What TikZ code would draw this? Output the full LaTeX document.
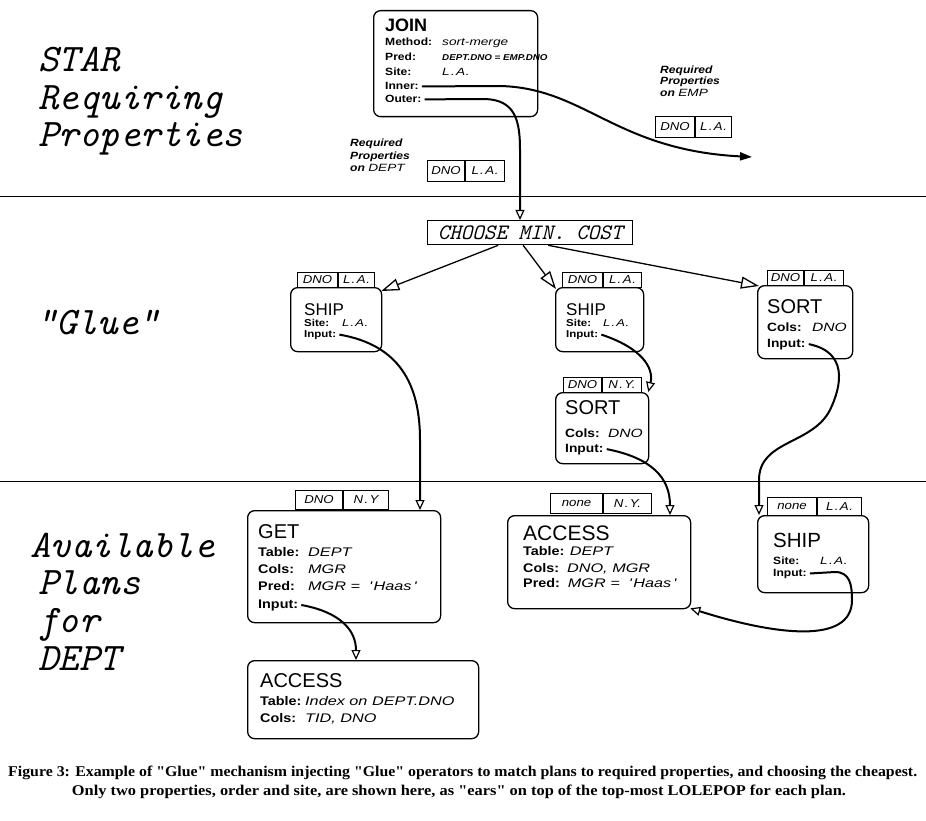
\documentclass[tikz,border=0pt]{standalone}
\usepackage{fontspec}
\usepackage{graphicx}
\usetikzlibrary{arrows.meta}
\setmainfont{Liberation Serif}
\newfontfamily\hv{Liberation Sans}
\newfontfamily\bx[FakeStretch=1.15]{Liberation Sans}
\newfontfamily\vf[FakeStretch=1.3]{Liberation Sans}
\newcommand\vl[1]{{\vf\mdseries\itshape #1}}
\newcommand\spLA{L\kern.12em.\kern.12em A\kern.06em.}
\newcommand\spNY{N\kern.12em.\kern.12em Y}
\newcommand\Q{\textquotesingle}
\newcommand\earpair[8]{%
  \node[ear, minimum width=#4pt, minimum height=#6pt] (#1a) at (#2,#3) {#7};
  \node[ear, minimum width=#5pt, minimum height=#6pt] (#1b) at (#1a.north east) {#8};}
\begin{document}
\begin{tikzpicture}[x=1pt,y=-1pt,
  opbox/.style={draw, line width=1.3pt, rounded corners=7pt, anchor=north west, inner sep=0pt},
  ear/.style={draw, line width=1pt, inner sep=0pt, anchor=north west, font=\bx\itshape\fontsize{11.5}{11.5}\selectfont},
  ttl/.style={anchor=base west, inner sep=0pt, font=\hv\fontsize{17}{17}\selectfont},
  fld/.style={anchor=base west, inner sep=0pt, font=\bx\bfseries\fontsize{10}{10}\selectfont},
  big/.style={anchor=base west, inner sep=0pt, font=\ttfamily\itshape\fontsize{39}{39}\selectfont},
  req/.style={anchor=base west, inner sep=0pt, font=\bx\bfseries\itshape\fontsize{10.5}{10.5}\selectfont},
  curv/.style={line width=2pt, -{Triangle[open, length=10pt, width=9pt, line width=1.2pt]}},
  fan/.style={line width=1.3pt, -{Triangle[open, length=18pt, width=12pt, line width=1.3pt]}},
  sep/.style={line width=1pt}]
\useasboundingbox (0,0) rectangle (926,821);
\fill[white] (0,0) rectangle (926,821);

% separators
\draw[sep] (0,197) -- (926,197);
\draw[sep] (0,481) -- (926,481);

% left labels
\node[big] (l1) at (38,72) {STAR};
\node[big] (l2) at (38,110) {Requiring};
\node[big] (l3) at (38,147) {Properties};
\node[big] (l4) at (36,334) {"Glue"};
\node[big] (l5) at (30,557) {Available};
\node[big] (l6) at (38,594) {Plans};
\node[big] (l7) at (38,632) {for};
\node[big] (l8) at (38,670) {DEPT};

% JOIN
\node[opbox, minimum width=164pt, minimum height=106pt] (join) at (373,10) {};
\node[ttl, font=\hv\bfseries\fontsize{18}{18}\selectfont] (jt) at (385,32) {JOIN};
\node[fld, font=\bx\bfseries\fontsize{10.5}{10.5}\selectfont] (jm) at (385,46) {\makebox[57pt][l]{Method:}\vl{sort-merge}};
\node[fld, font=\bx\bfseries\fontsize{10.5}{10.5}\selectfont] (jp) at (385,61) {\makebox[57pt][l]{Pred:}{\fontsize{8.5}{8.5}\selectfont\itshape DEPT.DNO = EMP.DNO}};
\node[fld, font=\bx\bfseries\fontsize{10.5}{10.5}\selectfont] (js) at (385,76) {\makebox[57pt][l]{Site:}\vl{\spLA}};
\node[fld, font=\bx\bfseries\fontsize{10.5}{10.5}\selectfont] (ji) at (385,90) {Inner:};
\node[fld, font=\bx\bfseries\fontsize{10.5}{10.5}\selectfont] (jo) at (385,103) {Outer:};

% required properties
\node[req] (rd1) at (350,147) {Required};
\node[req] (rd2) at (350,160) {Properties};
\node[req] (rd3) at (350,172) {on \vl{DEPT}};
\earpair{rdep}{427}{160}{37}{39}{21}{DNO}{\spLA}
\node[req] (re1) at (660,74) {Required};
\node[req] (re2) at (660,85) {Properties};
\node[req] (re3) at (660,97) {on \vl{EMP}};
\earpair{remp}{655}{116}{39}{36}{21}{DNO}{\spLA}
\coordinate (empend) at (752,157);

% CHOOSE
\node[draw, line width=1.3pt, minimum width=205pt, minimum height=24pt, anchor=north west, inner sep=0pt,
      font=\ttfamily\itshape\fontsize{22}{22}\selectfont] (choose) at (427,220) {CHOOSE MIN. COST};

% Glue: SHIP 1
\earpair{e1}{297}{272}{40}{36}{15}{DNO}{\spLA}
\node[opbox, minimum width=91pt, minimum height=64pt] (ship1) at (290,287) {};
\node[ttl] (s1t) at (304,315) {SHIP};
\node[fld] (s1s) at (304,326) {\makebox[38pt][l]{Site:}\vl{\spLA}};
\node[fld] (s1in) at (304,337) {Input:};

% Glue: SHIP 2
\earpair{e2}{562}{272}{40}{38}{15}{DNO}{\spLA}
\node[opbox, minimum width=88pt, minimum height=64pt] (ship2) at (555,287) {};
\node[ttl] (s2t) at (566,315) {SHIP};
\node[fld] (s2s) at (566,326) {\makebox[37pt][l]{Site:}\vl{\spLA}};
\node[fld] (s2in) at (566,337) {Input:};

% Glue: SORT 1
\earpair{e3}{767}{270}{36}{39}{15}{DNO}{\spLA}
\node[opbox, minimum width=95pt, minimum height=73pt] (sort1) at (757,285) {};
\node[ttl, font=\hv\fontsize{20}{20}\selectfont] (o1t) at (767,313) {SORT};
\node[fld, font=\bx\bfseries\fontsize{12}{12}\selectfont] (o1c) at (767,331) {\makebox[45pt][l]{Cols:}\vl{DNO}};
\node[fld, font=\bx\bfseries\fontsize{12}{12}\selectfont] (o1in) at (767,347) {Input:};

% Glue: SORT 2
\earpair{e4}{563}{377}{38}{39}{15}{DNO}{\spNY.}
\node[opbox, minimum width=93pt, minimum height=71pt] (sort2) at (555,392) {};
\node[ttl, font=\hv\fontsize{20}{20}\selectfont] (o2t) at (565,414) {SORT};
\node[fld, font=\bx\bfseries\fontsize{12}{12}\selectfont] (o2c) at (565,437) {\makebox[43pt][l]{Cols:}\vl{DNO}};
\node[fld, font=\bx\bfseries\fontsize{12}{12}\selectfont] (o2in) at (565,452) {Input:};

% Available: GET
\earpair{e5}{295}{490}{47}{45}{19}{DNO}{\spNY}
\node[opbox, minimum width=193pt, minimum height=112pt] (get) at (247,510) {};
\node[ttl, font=\hv\fontsize{20}{20}\selectfont] (gt) at (258,538) {GET};
\node[fld, font=\bx\bfseries\fontsize{12.5}{12.5}\selectfont] (gtb) at (258,556) {\makebox[50pt][l]{Table:}\vl{DEPT}};
\node[fld, font=\bx\bfseries\fontsize{12.5}{12.5}\selectfont] (gc) at (258,573) {\makebox[50pt][l]{Cols:}\vl{MGR}};
\node[fld, font=\bx\bfseries\fontsize{12.5}{12.5}\selectfont] (gp) at (258,590) {\makebox[50pt][l]{Pred:}\vl{MGR = \ \Q\,Haas\,\Q}};
\node[fld, font=\bx\bfseries\fontsize{12.5}{12.5}\selectfont] (gin) at (258,608) {Input:};

% Available: ACCESS 1
\earpair{e6}{550}{493}{52}{48}{20}{none}{\spNY.}
\node[opbox, minimum width=183pt, minimum height=93pt] (acc1) at (507,515) {};
\node[ttl, font=\hv\fontsize{21}{21}\selectfont] (a1t) at (523,540) {ACCESS};
\node[fld, font=\bx\bfseries\fontsize{12.5}{12.5}\selectfont] (a1tb) at (523,555) {Table: \vl{DEPT}};
\node[fld, font=\bx\bfseries\fontsize{12.5}{12.5}\selectfont] (a1c) at (523,572) {Cols:\ \ \vl{DNO, MGR}};
\node[fld, font=\bx\bfseries\fontsize{12.5}{12.5}\selectfont] (a1p) at (523,587) {Pred:\ \ \vl{MGR = \ \Q\,Haas\,\Q}};

% Available: SHIP 3
\earpair{e7}{767}{497}{49}{44}{18}{none}{\spLA}
\node[opbox, minimum width=111pt, minimum height=77pt] (ship3) at (757,515) {};
\node[ttl, font=\hv\fontsize{20.5}{20.5}\selectfont] (h3t) at (773,547) {SHIP};
\node[fld, font=\bx\bfseries\fontsize{10.5}{10.5}\selectfont] (h3s) at (773,564) {\makebox[47pt][l]{Site:}\vl{\spLA}};
\node[fld, font=\bx\bfseries\fontsize{10.5}{10.5}\selectfont] (h3in) at (773,576) {Input:};

% Available: ACCESS 2
\node[opbox, minimum width=231pt, minimum height=78pt] (acc2) at (247,660) {};
\node[ttl, font=\hv\fontsize{20}{20}\selectfont] (a2t) at (260,687) {ACCESS};
\node[fld, font=\bx\bfseries\fontsize{12.5}{12.5}\selectfont] (a2tb) at (260,705) {\makebox[45pt][l]{Table:}\vl{Index on DEPT.DNO}};
\node[fld, font=\bx\bfseries\fontsize{12.5}{12.5}\selectfont] (a2c) at (260,722) {\makebox[45pt][l]{Cols:}\vl{TID, DNO}};

% connectors
\draw[line width=2pt, -{Triangle[length=12pt, width=8pt]}] ([xshift=3pt]ji.east) -- (500,86) .. controls (585,88) and (615,150) .. (empend);
\draw[curv] ([xshift=3pt]jo.east) -- (485,99) .. controls (515,100) and (520,120) .. (520,150) -- (520,150 |- choose.north);

\draw[fan] ([xshift=-32pt]choose.south) -- ([xshift=-1pt,yshift=-4pt]ship1.north east);
\draw[fan] ([xshift=-7pt]choose.south) -- ([xshift=1pt,yshift=-2pt]ship2.north west);
\draw[fan] ([xshift=18pt]choose.south) -- ([xshift=2pt,yshift=-1pt]sort1.north west);

\draw[curv] ([xshift=3pt]s1in.east) .. controls (400,345) and (420,385) .. (420,440) -- (420,440 |- get.north);
\draw[curv] ([xshift=3pt]s2in.east) .. controls (642,348) and (654,368) .. ([xshift=-1pt]sort2.north east);
\draw[curv] ([xshift=3pt]o2in.east) .. controls (652,458) and (670,478) .. (670,500 |- acc1.north);
\draw[curv] ([xshift=3pt]o1in.east) .. controls (848,352) and (842,385) .. (830,410) .. controls (812,445) and (759,440) .. (759,480) -- (759,480 |- ship3.north);
\draw[curv] ([xshift=3pt]h3in.east) -- (835,572) .. controls (850,572) and (852,585) .. (852,600) .. controls (852,645) and (775,635) .. ([xshift=-1pt,yshift=1pt]acc1.south east);
\draw[curv] ([xshift=3pt]gin.east) .. controls (340,612) and (356,630) .. (356,640 |- acc2.north);

% caption
\node[anchor=base west, inner sep=0pt] (cap1) at (8,776) {\resizebox{909pt}{10.5pt}{\bfseries Figure 3: Example of \textquotedbl Glue\textquotedbl\ mechanism injecting \textquotedbl Glue\textquotedbl\ operators to match plans to required properties, and choosing the cheapest.}};
\node[anchor=base, inner sep=0pt] (cap2) at (459,795) {\resizebox{774pt}{10.5pt}{\bfseries Only two properties, order and site, are shown here, as \textquotedbl ears\textquotedbl\ on top of the top-most LOLEPOP for each plan.}};
\end{tikzpicture}
\end{document}
